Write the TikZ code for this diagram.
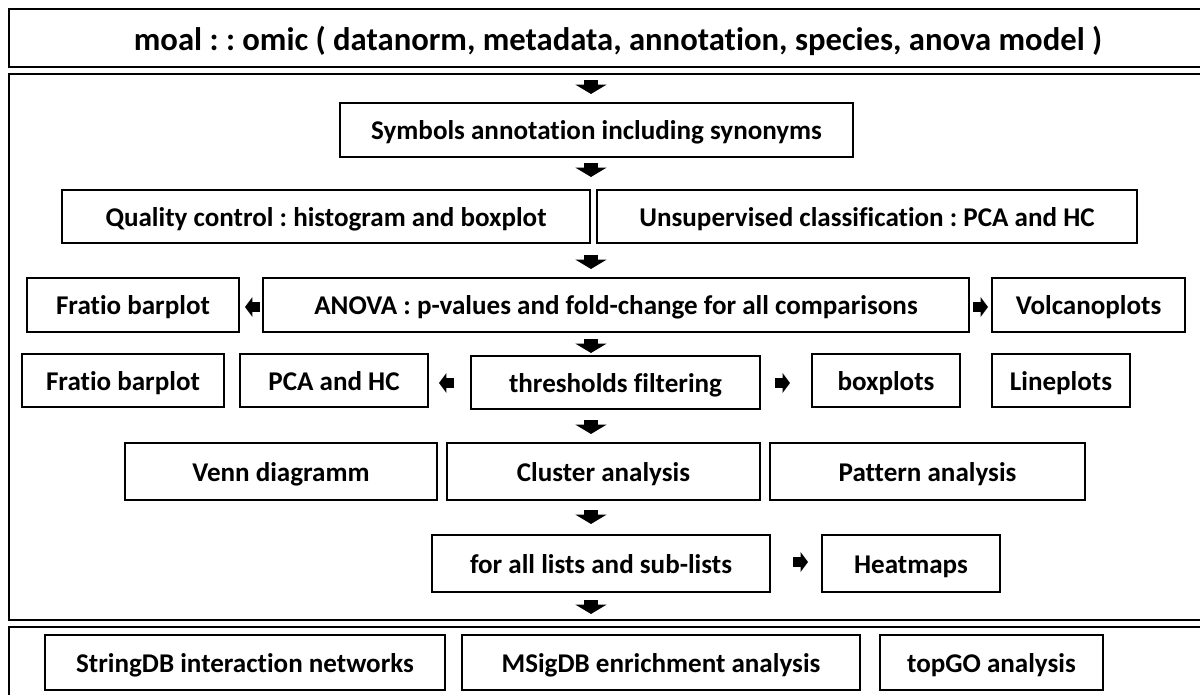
\documentclass[tikz,border=0pt]{standalone}
\usepackage{fontspec}
\setmainfont[Ligatures=NoCommon]{Carlito}
\usetikzlibrary{arrows.meta}
\frenchspacing
\tikzset{
  box/.style={draw, line width=1.5pt, inner sep=0pt, text height=16pt, text depth=1pt, font=\fontsize{20.3}{22}\selectfont\bfseries},
  panel/.style={draw, line width=2.2pt},
  darr/.style={line width=11pt, -{Triangle[length=7pt,width=23pt]}},
  sarr/.style={line width=7.5pt, -{Triangle[length=5.5pt,width=14.5pt]}},
}
\newcommand\mybox[6]{\node[box, minimum width={(#4-#2)*0.75pt}, minimum height={(#5-#3)*0.75pt}] (#1) at ({(#2+#4)/2},{(#3+#5)/2}) {#6};}
\begin{document}
\begin{tikzpicture}[x=0.75pt,y=-0.75pt]
\useasboundingbox (0,0) rectangle (1200,695);
\clip (0,0) rectangle (1200,695);
% panels
\draw[panel] (9,9) rectangle (1232,67);
\draw[panel] (9,74) rectangle (1232,620);
\draw[panel] (9,627) rectangle (1232,760);
\node[font=\fontsize{24.5}{26}\selectfont\bfseries, text height=18.5pt, text depth=1pt, inner sep=0pt] (head) at (618,39) {moal : : omic ( datanorm, metadata, annotation, species, anova model )};
% boxes
\mybox{sym}{340}{103}{853}{157}{Symbols annotation including synonyms}
\mybox{qc}{62}{190}{590}{243}{Quality control : histogram and boxplot}
\mybox{uc}{597}{190}{1137}{243}{Unsupervised classification : PCA and HC}
\mybox{fra}{27}{278}{239}{332}{Fratio barplot}
\mybox{anova}{263}{278}{969}{332}{ANOVA : p-values and fold-change for all comparisons}
\mybox{volc}{992}{278}{1185}{332}{Volcanoplots}
\mybox{frb}{22}{354}{224}{407}{Fratio barplot}
\mybox{pca}{240}{354}{428}{407}{PCA and HC}
\mybox{thr}{471}{356}{760}{409}{thresholds filtering}
\mybox{boxp}{812}{354}{960}{407}{boxplots}
\mybox{line}{992}{354}{1130}{407}{Lineplots}
\mybox{venn}{125}{443}{437}{500}{Venn diagramm}
\mybox{clus}{447}{443}{760}{500}{Cluster analysis}
\mybox{patt}{770}{443}{1085}{500}{Pattern analysis}
\mybox{lists}{432}{535}{770}{592}{for all lists and sub-lists}
\mybox{heat}{822}{535}{1000}{592}{Heatmaps}
\mybox{sdb}{45}{635}{445}{690}{StringDB interaction networks}
\mybox{msig}{462}{635}{860}{690}{MSigDB enrichment analysis}
\mybox{topgo}{880}{635}{1103}{690}{topGO analysis}
% arrow end points
\coordinate (d1a) at (591,80);  \coordinate (d1b) at (591,94);
\coordinate (d2a) at (591,163); \coordinate (d2b) at (591,177);
\coordinate (d3a) at (591,255); \coordinate (d3b) at (591,269);
\coordinate (d4a) at (591,339); \coordinate (d4b) at (591,353);
\coordinate (d5a) at (591,420); \coordinate (d5b) at (591,434);
\coordinate (d6a) at (591,510); \coordinate (d6b) at (591,524);
\coordinate (d7a) at (591,600); \coordinate (d7b) at (591,614);
\draw[darr] (d1a) -- (d1b);
\draw[darr] (d2a) -- (d2b);
\draw[darr] (d3a) -- (d3b);
\draw[darr] (d4a) -- (d4b);
\draw[darr] (d5a) -- (d5b);
\draw[darr] (d6a) -- (d6b);
\draw[darr] (d7a) -- (d7b);
\coordinate (l1a) at (260,307); \coordinate (l1b) at (245,307);
\coordinate (r1a) at (973,307); \coordinate (r1b) at (988,307);
\coordinate (l2a) at (454,383); \coordinate (l2b) at (439,383);
\coordinate (r2a) at (775,383); \coordinate (r2b) at (790,383);
\coordinate (r3a) at (793,562); \coordinate (r3b) at (808,562);
\draw[sarr] (l1a) -- (l1b);
\draw[sarr] (r1a) -- (r1b);
\draw[sarr] (l2a) -- (l2b);
\draw[sarr] (r2a) -- (r2b);
\draw[sarr] (r3a) -- (r3b);
\end{tikzpicture}
\end{document}
